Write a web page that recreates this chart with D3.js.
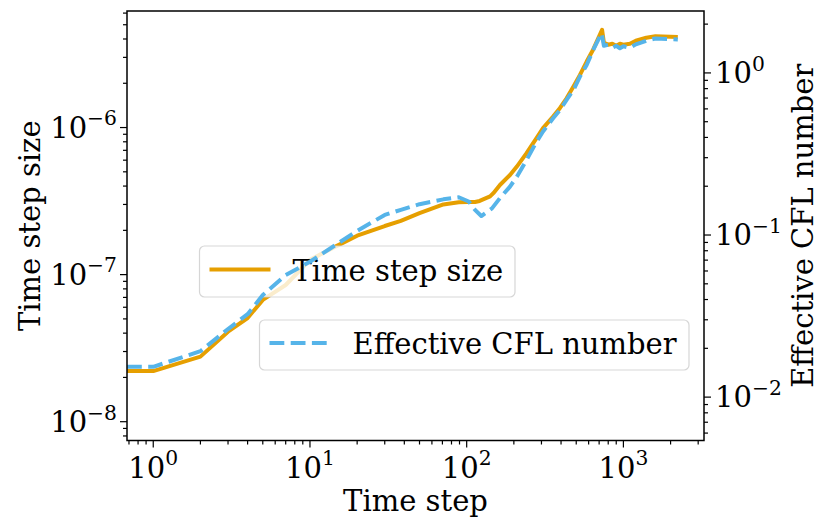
<!DOCTYPE html>
<html>
<head>
<meta charset="utf-8">
<script src="https://cdn.jsdelivr.net/npm/d3@7"></script>
<style>
  body { margin: 0; background: #fff; }
  text { font-family: "DejaVu Serif", serif; }
</style>
</head>
<body>
<div id="chart"></div>
<script>
// time step size (left axis)
const dtSteps = [0, 1, 2, 3, 4, 5, 7, 10, 14, 20, 30, 38, 50, 71, 89, 101, 113, 121, 141, 148, 163, 189, 209, 241, 279, 307, 356, 394, 434, 480, 528, 583, 643, 708, 731, 751, 800, 850, 900, 950, 1000, 1100, 1200, 1400, 1600, 2224];
const dtValues = [2.21e-8, 2.21e-8, 2.77e-8, 4.09e-8, 5.07e-8, 6.73e-8, 8.5e-8, 1.26e-7, 1.52e-7, 1.84e-7, 2.14e-7, 2.32e-7, 2.62e-7, 3.0e-7, 3.1e-7, 3.12e-7, 3.12e-7, 3.17e-7, 3.40e-7, 3.58e-7, 4.07e-7, 4.76e-7, 5.43e-7, 6.70e-7, 8.48e-7, 9.91e-7, 1.19e-6, 1.36e-6, 1.58e-6, 1.90e-6, 2.28e-6, 2.81e-6, 3.41e-6, 4.28e-6, 4.62e-6, 3.77e-6, 3.66e-6, 3.71e-6, 3.60e-6, 3.71e-6, 3.66e-6, 3.71e-6, 3.89e-6, 4.08e-6, 4.17e-6, 4.12e-6];

// effective CFL number (right axis)
const cflSteps = [0, 1, 2, 3, 4, 5, 7, 10, 14, 20, 30, 38, 50, 71, 89, 103, 113, 124, 145, 163, 189, 209, 241, 279, 307, 356, 394, 434, 480, 528, 583, 643, 708, 727, 751, 800, 850, 900, 950, 1000, 1100, 1200, 1400, 1600, 2224];
const cflValues = [0.01538, 0.01538, 0.0192, 0.0263, 0.0325, 0.0426, 0.0566, 0.0684, 0.0847, 0.106, 0.133, 0.143, 0.155, 0.166, 0.171, 0.161, 0.143, 0.131, 0.146, 0.169, 0.199, 0.229, 0.290, 0.376, 0.435, 0.525, 0.591, 0.681, 0.785, 0.949, 1.12, 1.39, 1.68, 1.76, 1.47, 1.49, 1.43, 1.47, 1.42, 1.46, 1.43, 1.50, 1.58, 1.63, 1.61];

const xMajor = [1, 10, 100, 1000];
const dtMajor = [1e-8, 1e-7, 1e-6];
const cflMajor = [0.01, 0.1, 1];

const seriesNames = ["Time step size", "Effective CFL number"];
const colors = ["#E69F00", "#56B4E9"];

const width = 831, height = 527;
const pLeft = 127, pRight = 704, pTop = 11, pBottom = 440.5;
const fs = 29;

const x = d3.scaleLog().domain([0.68, 3268]).range([pLeft, pRight]);
const yL = d3.scaleLog().domain([7.45e-9, 6.2e-6]).range([pBottom, pTop]);
const yR = d3.scaleLog().domain([0.0054, 2.41]).range([pBottom, pTop]);

const svg = d3.select("#chart").append("svg")
  .attr("width", width).attr("height", height)
  .attr("viewBox", [0, 0, width, height]);

// minor ticks: 2..9 times each decade inside the domain
function minors(scale) {
  const [a, b] = scale.domain();
  const out = [];
  for (let e = Math.floor(Math.log10(a)); e <= Math.ceil(Math.log10(b)); e++) {
    for (let m = 2; m <= 9; m++) {
      const v = m * Math.pow(10, e);
      if (v >= a && v <= b) out.push(v);
    }
  }
  return out;
}

function powLabel(sel, v) {
  const e = Math.round(Math.log10(v));
  sel.text("10");
  sel.append("tspan")
    .attr("dy", -0.42 * fs)
    .attr("font-size", fs * 0.7)
    .text(String(e).replace("-", "\u2212"));
}

const clipX = s => x(Math.max(s, x.domain()[0]));

// orange line
svg.append("path")
  .datum(dtSteps.map((s, i) => [s, dtValues[i]]))
  .attr("fill", "none")
  .attr("stroke", colors[0])
  .attr("stroke-width", 4)
  .attr("stroke-linejoin", "round")
  .attr("d", d3.line().x(d => clipX(d[0])).y(d => yL(d[1])));

// legend box with one entry
function legend(g, bx, by, bw, bh, i) {
  g.append("rect")
    .attr("x", bx).attr("y", by).attr("width", bw).attr("height", bh)
    .attr("rx", 5)
    .attr("fill", "#fff").attr("fill-opacity", 0.8)
    .attr("stroke", "#ccc").attr("stroke-opacity", 0.8).attr("stroke-width", 1.2);
  g.append("line")
    .attr("x1", bx + 10).attr("x2", bx + 71)
    .attr("y1", by + bh / 2 - 2).attr("y2", by + bh / 2 - 2)
    .attr("stroke", colors[i]).attr("stroke-width", 4)
    .attr("stroke-dasharray", i === 1 ? "14.8,6.4" : null);
  g.append("text")
    .attr("x", bx + 93).attr("y", by + bh / 2 + 9)
    .attr("font-size", fs)
    .text(seriesNames[i]);
}
// legend 1 belongs to the left axes, so it sits under the blue line
legend(svg.append("g"), 199.5, 246, 315.5, 51, 0);

// blue dashed line
svg.append("path")
  .datum(cflSteps.map((s, i) => [s, cflValues[i]]))
  .attr("fill", "none")
  .attr("stroke", colors[1])
  .attr("stroke-width", 4)
  .attr("stroke-dasharray", "14.8,6.4")
  .attr("stroke-linejoin", "round")
  .attr("d", d3.line().x(d => clipX(d[0])).y(d => yR(d[1])));

legend(svg.append("g"), 259.5, 320, 429.5, 50, 1);

// frame
svg.append("rect")
  .attr("x", pLeft).attr("y", pTop).attr("width", pRight - pLeft).attr("height", pBottom - pTop)
  .attr("fill", "none").attr("stroke", "#000").attr("stroke-width", 1.5);

const ticks = svg.append("g").attr("stroke", "#000").attr("stroke-width", 1.2);
xMajor.forEach(v => ticks.append("line").attr("x1", x(v)).attr("x2", x(v)).attr("y1", pBottom).attr("y2", pBottom + 7));
minors(x).forEach(v => ticks.append("line").attr("x1", x(v)).attr("x2", x(v)).attr("y1", pBottom).attr("y2", pBottom + 4));
dtMajor.forEach(v => ticks.append("line").attr("y1", yL(v)).attr("y2", yL(v)).attr("x1", pLeft).attr("x2", pLeft - 7));
minors(yL).forEach(v => ticks.append("line").attr("y1", yL(v)).attr("y2", yL(v)).attr("x1", pLeft).attr("x2", pLeft - 4));
cflMajor.forEach(v => ticks.append("line").attr("y1", yR(v)).attr("y2", yR(v)).attr("x1", pRight).attr("x2", pRight + 7));
minors(yR).forEach(v => ticks.append("line").attr("y1", yR(v)).attr("y2", yR(v)).attr("x1", pRight).attr("x2", pRight + 4));

// tick labels
xMajor.forEach(v => svg.append("text")
  .attr("x", x(v)).attr("y", pBottom + 37).attr("text-anchor", "middle")
  .attr("font-size", fs).call(powLabel, v));
dtMajor.forEach(v => svg.append("text")
  .attr("x", pLeft - 10).attr("y", yL(v) + 10).attr("text-anchor", "end")
  .attr("font-size", fs).call(powLabel, v));
cflMajor.forEach(v => svg.append("text")
  .attr("x", pRight + 11).attr("y", yR(v) + 10).attr("text-anchor", "start")
  .attr("font-size", fs).call(powLabel, v));

// axis titles
svg.append("text")
  .attr("x", (pLeft + pRight) / 2).attr("y", 511)
  .attr("text-anchor", "middle").attr("font-size", fs)
  .text("Time step");
svg.append("text")
  .attr("transform", `translate(40,${(pTop + pBottom) / 2}) rotate(-90)`)
  .attr("text-anchor", "middle").attr("font-size", fs)
  .text("Time step size");
svg.append("text")
  .attr("transform", `translate(813,${(pTop + pBottom) / 2}) rotate(-90)`)
  .attr("text-anchor", "middle").attr("font-size", fs)
  .text("Effective CFL number");
</script>
</body>
</html>
